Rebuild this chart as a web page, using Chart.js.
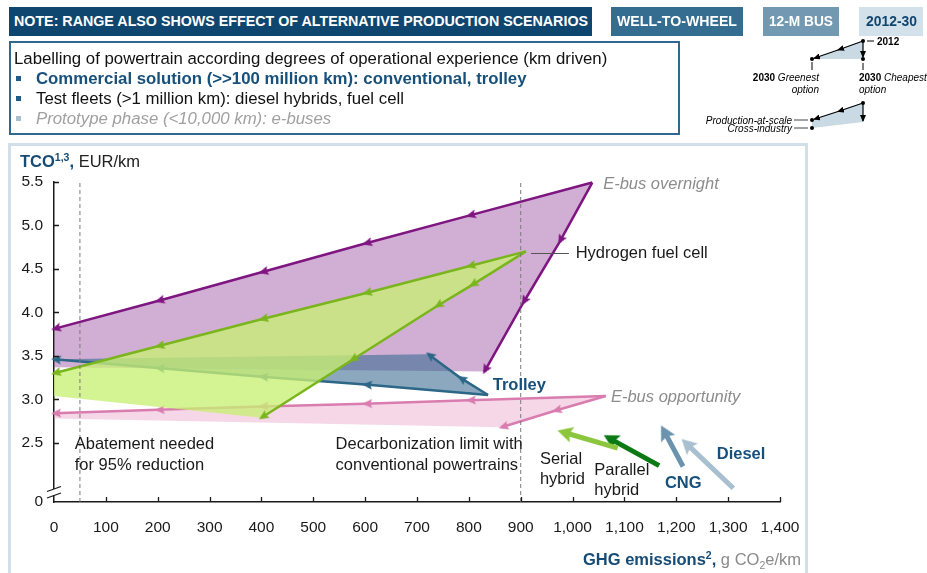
<!DOCTYPE html>
<html>
<head>
<meta charset="utf-8">
<script src="https://cdn.jsdelivr.net/npm/chart.js@4.4.1/dist/chart.umd.min.js"></script>
<style>
  body { margin: 0; width: 927px; height: 573px; overflow: hidden; background: #fff; position: relative;
         font-family: "Liberation Sans", Arial, sans-serif; }
  .abs { position: absolute; white-space: nowrap; }
  .tag { position: absolute; top: 7px; height: 29px; }
  .tagtxt { position: absolute; top: 7px; height: 29px; line-height: 29px; font-size: 14.5px; font-weight: bold;
            white-space: nowrap; transform-origin: left center; }
  .ln { position: absolute; left: 36px; height: 20px; line-height: 20px; font-size: 16.8px; white-space: nowrap; }
  .sq { position: absolute; left: 16px; width: 5px; height: 5px; }
  #chart { position: absolute; left: 0; top: 0; }
  sup, sub { font-size: 10.5px; line-height: 0; }
</style>
</head>
<body>
<!-- chart panel -->
<div class="abs" style="left:8px;top:143px;width:800px;height:450px;border:3px solid #d3dfe8;box-sizing:border-box"></div>
<canvas id="chart" width="927" height="573"></canvas>

<!-- header tags -->
<div class="tag" style="left:9px;width:583px;background:#0f4670"></div>
<span class="tagtxt fit" data-w="574" style="left:14px;color:#fff">NOTE: RANGE ALSO SHOWS EFFECT OF ALTERNATIVE PRODUCTION SCENARIOS</span>
<div class="tag" style="left:611px;width:132px;background:#356d91"></div>
<span class="tagtxt fit" data-w="120" style="left:617px;color:#fff">WELL-TO-WHEEL</span>
<div class="tag" style="left:763px;width:76px;background:#7298b2"></div>
<span class="tagtxt fit" data-w="64" style="left:769px;color:#fff">12-M BUS</span>
<div class="tag" style="left:859px;width:64px;background:#d3e1ea"></div>
<span class="tagtxt fit" data-w="51" style="left:866px;color:#0f4670">2012-30</span>

<!-- maturity legend -->
<div class="abs" style="left:9px;top:41px;width:671px;height:94px;border:2px solid #2f6890;box-sizing:border-box"></div>
<div class="ln" style="left:14px;top:49px;color:#111">Labelling of powertrain according degrees of operational experience (km driven)</div>
<div class="sq" style="top:76px;background:#1f5b87"></div>
<div class="ln" style="top:69px;color:#17507a;font-weight:bold">Commercial solution (&gt;&gt;100 million km): conventional, trolley</div>
<div class="sq" style="top:96px;background:#1f5b87"></div>
<div class="ln" style="top:89px;color:#111">Test fleets (&gt;1 million km): diesel hybrids, fuel cell</div>
<div class="sq" style="top:116px;background:#a9bfce"></div>
<div class="ln" style="top:109px;color:#a0a0a0;font-style:italic">Prototype phase (&lt;10,000 km): e-buses</div>

<!-- how-to-read key -->
<svg class="abs" style="left:0;top:0" width="927" height="140" font-family="Liberation Sans, Arial, sans-serif" font-size="10">
  <defs>
    <marker id="ah" markerUnits="userSpaceOnUse" markerWidth="7" markerHeight="6" refX="6" refY="3" orient="auto">
      <path d="M0,0 L7,3 L0,6 z" fill="#000"/>
    </marker>
  </defs>
  <polygon points="863,41 812,59 863,59" fill="#c9dae5"/>
  <polyline points="863,41 838,50 814,58.3" fill="none" stroke="#000" stroke-width="1.2" marker-mid="url(#ah)" marker-end="url(#ah)"/>
  <line x1="863" y1="41" x2="863" y2="57" stroke="#000" stroke-width="1.2" marker-end="url(#ah)"/>
  <circle cx="863" cy="41" r="2"/><circle cx="812" cy="59" r="2"/><circle cx="863" cy="59" r="2"/>
  <line x1="812" y1="62" x2="812" y2="70" stroke="#000"/>
  <line x1="863" y1="63" x2="863" y2="70" stroke="#000"/>
  <line x1="867" y1="41" x2="874" y2="41" stroke="#000"/>
  <text x="877" y="44.5" font-weight="bold">2012</text>
  <text x="819" y="81" text-anchor="end"><tspan font-weight="bold">2030</tspan><tspan font-style="italic"> Greenest</tspan></text>
  <text x="819" y="93" text-anchor="end" font-style="italic">option</text>
  <text x="859" y="81"><tspan font-weight="bold">2030</tspan><tspan font-style="italic"> Cheapest</tspan></text>
  <text x="859" y="93" font-style="italic">option</text>

  <polygon points="863,103 812,120 812,128 863,122" fill="#c9dae5"/>
  <polyline points="863,103 838,111.5 814,119.3" fill="none" stroke="#000" stroke-width="1.2" marker-mid="url(#ah)" marker-end="url(#ah)"/>
  <line x1="863" y1="103" x2="863" y2="121" stroke="#000" stroke-width="1.2" marker-end="url(#ah)"/>
  <circle cx="863" cy="103" r="2"/><circle cx="812" cy="120" r="2"/><circle cx="812" cy="128" r="2"/>
  <line x1="794" y1="120" x2="808" y2="120" stroke="#444"/>
  <line x1="794" y1="128" x2="808" y2="128" stroke="#444"/>
  <text x="792" y="123.5" text-anchor="end" font-style="italic">Production-at-scale</text>
  <text x="792" y="132" text-anchor="end" font-style="italic">Cross-industry</text>
</svg>

<!-- axis titles -->
<div class="abs" style="left:20px;top:150px;font-size:16.5px;line-height:22px;color:#222">
  <b style="color:#164b75">TCO<sup>1,3</sup>,</b> EUR/km</div>
<div class="abs" style="right:126px;top:548px;font-size:16.5px;line-height:22px;color:#8a8a8a">
  <b style="color:#164b75">GHG emissions<sup>2</sup>,</b> g CO<sub>2</sub>e/km</div>

<script>
// ---- values: [GHG g CO2e/km, TCO EUR/km] ----
// each range runs from its 2012 point to the 2030 greenest and the 2030 cheapest option
const overnightToGreenest = [[1038, 5.49], [800, 5.11], [600, 4.79], [400, 4.46], [200, 4.13], [0, 3.81]];
const overnightToCheapest = [[1038, 5.49], [975, 4.81], [905, 4.11], [830, 3.32]];
const overnightFloor = [0, 3.37];

const fuelCellToGreenest = [[910, 4.70], [800, 4.53], [600, 4.22], [400, 3.92], [200, 3.61], [0, 3.30]];
const fuelCellToCheapest = [[910, 4.70], [805, 4.31], [738, 4.07], [574, 3.45], [400, 2.79]];
const fuelCellFloor = [0, 3.04];

const trolleyToGreenest = [[837, 3.05], [600, 3.17], [400, 3.26], [200, 3.36], [0, 3.46]];
const trolleyToCheapest = [[837, 3.05], [783, 3.25], [722, 3.52]];
const trolleyFloor = [0, 3.46];

const opportunityToGreenest = [[1064, 3.04], [800, 2.99], [600, 2.95], [400, 2.92], [200, 2.88], [0, 2.84]];
const opportunityToCheapest = [[1064, 3.04], [966, 2.87], [863, 2.68]];
const opportunityFloor = [0, 2.78];

// conventional powertrains
const serialHybrid = [[1087, 2.44], [984, 2.62]];
const parallelHybrid = [[1167, 2.24], [1072, 2.55]];
const cngBus = [[1213, 2.23], [1177, 2.63]];
const dieselBus = [[1310, 1.98], [1220, 2.49]];

const limitLines = [50, 900];          // 95% abatement, decarbonization limit
const yTickValues = [2.5, 3.0, 3.5, 4.0, 4.5, 5.0, 5.5];
const yAxisBottom = 1.822;             // broken axis, shown as "0"
const yAxisBottomLabel = '0';

const FONT = 'Liberation Sans, Arial, sans-serif';
const BLUE_TXT = '#17507a';

// text placed next to the marks (in chart values)
const notes = [
  { text: 'E-bus overnight', x: 1059, y: 5.47, color: '#8c8c8c', style: 'italic' },
  { text: 'Hydrogen fuel cell', x: 1006, y: 4.68 },
  { text: 'Trolley', x: 846, y: 3.155, color: BLUE_TXT, weight: 'bold' },
  { text: 'E-bus opportunity', x: 1074, y: 3.02, color: '#8c8c8c', style: 'italic' },
  { text: 'Abatement needed', x: 40, y: 2.485 },
  { text: 'for 95% reduction', x: 40, y: 2.244 },
  { text: 'Decarbonization limit with', x: 543, y: 2.485 },
  { text: 'conventional powertrains', x: 543, y: 2.244 },
  { text: 'Serial', x: 937, y: 2.31 },
  { text: 'hybrid', x: 937, y: 2.08 },
  { text: 'Parallel', x: 1042, y: 2.186 },
  { text: 'hybrid', x: 1042, y: 1.956 },
  { text: 'CNG', x: 1178, y: 2.03, color: BLUE_TXT, weight: 'bold' },
  { text: 'Diesel', x: 1278, y: 2.37, color: BLUE_TXT, weight: 'bold' }
];

const pts = a => a.map(([x, y]) => ({ x, y }));
const range = (toGreenest, floor, toCheapest) =>
  [...toGreenest, floor, toCheapest[toCheapest.length - 1], toGreenest[0]];

// arrow head image, tip at the centre (+ahead), pointing up before rotation
function arrowHead(color, len, half, ahead) {
  const size = 2 * Math.ceil(len + ahead + 1);
  const c = document.createElement('canvas');
  c.width = c.height = size;
  const g = c.getContext('2d');
  const m = size / 2;
  g.fillStyle = color;
  g.beginPath();
  g.moveTo(m, m - ahead);
  g.lineTo(m + half, m - ahead + len);
  g.lineTo(m, m - ahead + len * 0.82);
  g.lineTo(m - half, m - ahead + len);
  g.closePath();
  g.fill();
  return c;
}

function arrowRotation(ctx) {
  const i = ctx.dataIndex;
  const d = ctx.dataset.data;
  if (!i || !d[i]) return 0;
  const xs = ctx.chart.scales.x, ys = ctx.chart.scales.y;
  const dx = xs.getPixelForValue(d[i].x) - xs.getPixelForValue(d[i - 1].x);
  const dy = ys.getPixelForValue(d[i].y) - ys.getPixelForValue(d[i - 1].y);
  return Math.atan2(dx, -dy) * 180 / Math.PI;
}

function edge(data, color, width, head, order) {
  return {
    data: pts(data), borderColor: color, borderWidth: width, fill: false, order, clip: false,
    pointRadius: c => (c.dataIndex === 0 ? 0 : 4),
    pointStyle: head,
    pointRotation: arrowRotation
  };
}
function area(poly, color, order) {
  return { data: pts(poly), borderWidth: 0, borderColor: 'transparent', backgroundColor: color,
           fill: 'shape', pointRadius: 0, order };
}

const C = {
  overnight: '#7e1581', fuelCell: '#7ab51d', trolley: '#2c6787', opportunity: '#d97caf',
  serial: '#8cc63e', parallel: '#0b7a14', cng: '#6b93ae', diesel: '#a7bfcf'
};
const thin = col => arrowHead(col, 10, 4.5, 3);
const thick = col => arrowHead(col, 15, 8, 7);

const datasets = [
  // E-bus overnight (back)
  area(range(overnightToGreenest, overnightFloor, overnightToCheapest), 'rgba(150,70,155,0.44)', 20),
  edge(overnightToGreenest, C.overnight, 2.5, thin(C.overnight), 19),
  edge(overnightToCheapest, C.overnight, 2.5, thin(C.overnight), 19),
  // E-bus opportunity
  area(range(opportunityToGreenest, opportunityFloor, opportunityToCheapest), 'rgba(232,150,195,0.38)', 16),
  edge(opportunityToGreenest, C.opportunity, 2.5, thin(C.opportunity), 15),
  edge(opportunityToCheapest, C.opportunity, 2.5, thin(C.opportunity), 15),
  // Trolley
  area(range(trolleyToGreenest, trolleyFloor, trolleyToCheapest), 'rgba(55,105,145,0.58)', 12),
  edge(trolleyToGreenest, C.trolley, 2.5, thin(C.trolley), 11),
  edge(trolleyToCheapest, C.trolley, 2.5, thin(C.trolley), 11),
  // Hydrogen fuel cell
  area(range(fuelCellToGreenest, fuelCellFloor, fuelCellToCheapest), 'rgba(200,240,115,0.78)', 8),
  edge(fuelCellToGreenest, C.fuelCell, 2.5, thin(C.fuelCell), 7),
  edge(fuelCellToCheapest, C.fuelCell, 2.5, thin(C.fuelCell), 7),
  // conventional powertrains
  edge(serialHybrid, C.serial, 5, thick(C.serial), 4),
  edge(parallelHybrid, C.parallel, 5, thick(C.parallel), 4),
  edge(cngBus, C.cng, 5, thick(C.cng), 4),
  edge(dieselBus, C.diesel, 5, thick(C.diesel), 4),
  // dashed reference lines
  ...limitLines.map(v => ({
    data: pts([[v, yAxisBottom], [v, 5.5]]), borderColor: '#7a7a7a', borderWidth: 1,
    borderDash: [4, 3], fill: false, pointRadius: 0, order: 1
  }))
];

// inward ticks, broken y axis, labels
const decor = {
  id: 'decor',
  afterDraw(chart) {
    const { ctx, chartArea: a, scales: { x: xs, y: ys } } = chart;
    ctx.save();
    ctx.strokeStyle = '#1a1a1a';
    ctx.lineWidth = 1.3;
    ctx.beginPath();
    for (let v = 100; v <= 1400; v += 100) {
      const px = Math.round(xs.getPixelForValue(v)) + 0.5;
      ctx.moveTo(px, a.bottom); ctx.lineTo(px, a.bottom - 5);
    }
    yTickValues.forEach(v => {
      const py = Math.round(ys.getPixelForValue(v)) + 0.5;
      ctx.moveTo(a.left, py); ctx.lineTo(a.left + 5, py);
    });
    ctx.stroke();

    // axis break
    ctx.fillStyle = '#fff';
    ctx.fillRect(a.left - 2, a.bottom - 13, 4, 6);
    ctx.beginPath();
    [a.bottom - 13, a.bottom - 6.5].forEach(y0 => {
      ctx.moveTo(a.left - 7, y0 + 2.5); ctx.lineTo(a.left + 7, y0 - 2.5);
    });
    ctx.stroke();

    // leader to "Hydrogen fuel cell"
    ctx.strokeStyle = '#555';
    ctx.lineWidth = 1;
    ctx.beginPath();
    const ly = Math.round(ys.getPixelForValue(4.68)) + 0.5;
    ctx.moveTo(xs.getPixelForValue(920), ly);
    ctx.lineTo(xs.getPixelForValue(993), ly);
    ctx.stroke();

    ctx.textBaseline = 'middle';
    ctx.textAlign = 'left';
    notes.forEach(n => {
      ctx.font = `${n.style || 'normal'} ${n.weight || 'normal'} 16.5px ${FONT}`;
      ctx.fillStyle = n.color || '#1a1a1a';
      ctx.fillText(n.text, xs.getPixelForValue(n.x), ys.getPixelForValue(n.y));
    });
    ctx.restore();
  }
};

const tickFont = { family: FONT, size: 15.5 };

new Chart(document.getElementById('chart'), {
  type: 'line',
  data: { datasets },
  options: {
    responsive: false,
    animation: false,
    events: [],
    layout: { padding: { top: 181.7, right: 147, left: 0, bottom: 0 } },
    elements: { line: { tension: 0, borderCapStyle: 'butt' } },
    plugins: { legend: { display: false }, tooltip: { enabled: false } },
    scales: {
      x: {
        type: 'linear', min: 0, max: 1400,
        grid: { display: false, drawTicks: false },
        border: { display: true, color: '#1a1a1a', width: 1.5 },
        ticks: { stepSize: 100, autoSkip: false, maxRotation: 0, padding: 16, color: '#1a1a1a', font: tickFont,
                 callback: v => v.toLocaleString('en-US') },
        afterFit: s => { s.height = 71; }
      },
      y: {
        type: 'linear', min: yAxisBottom, max: 5.5,
        grid: { display: false, drawTicks: false },
        border: { display: true, color: '#1a1a1a', width: 1.5 },
        afterBuildTicks: s => { s.ticks = [yAxisBottom, ...yTickValues].map(v => ({ value: v })); },
        ticks: { padding: 11, color: '#1a1a1a', font: tickFont,
                 callback: v => (v === yAxisBottom ? yAxisBottomLabel : v.toFixed(1)) },
        afterFit: s => { s.width = 54; }
      }
    }
  },
  plugins: [decor]
});

// squeeze the condensed header captions into their boxes
document.querySelectorAll('.fit').forEach(el => {
  const w = el.getBoundingClientRect().width;
  el.style.transform = `scaleX(${el.dataset.w / w})`;
});
</script>
</body>
</html>
